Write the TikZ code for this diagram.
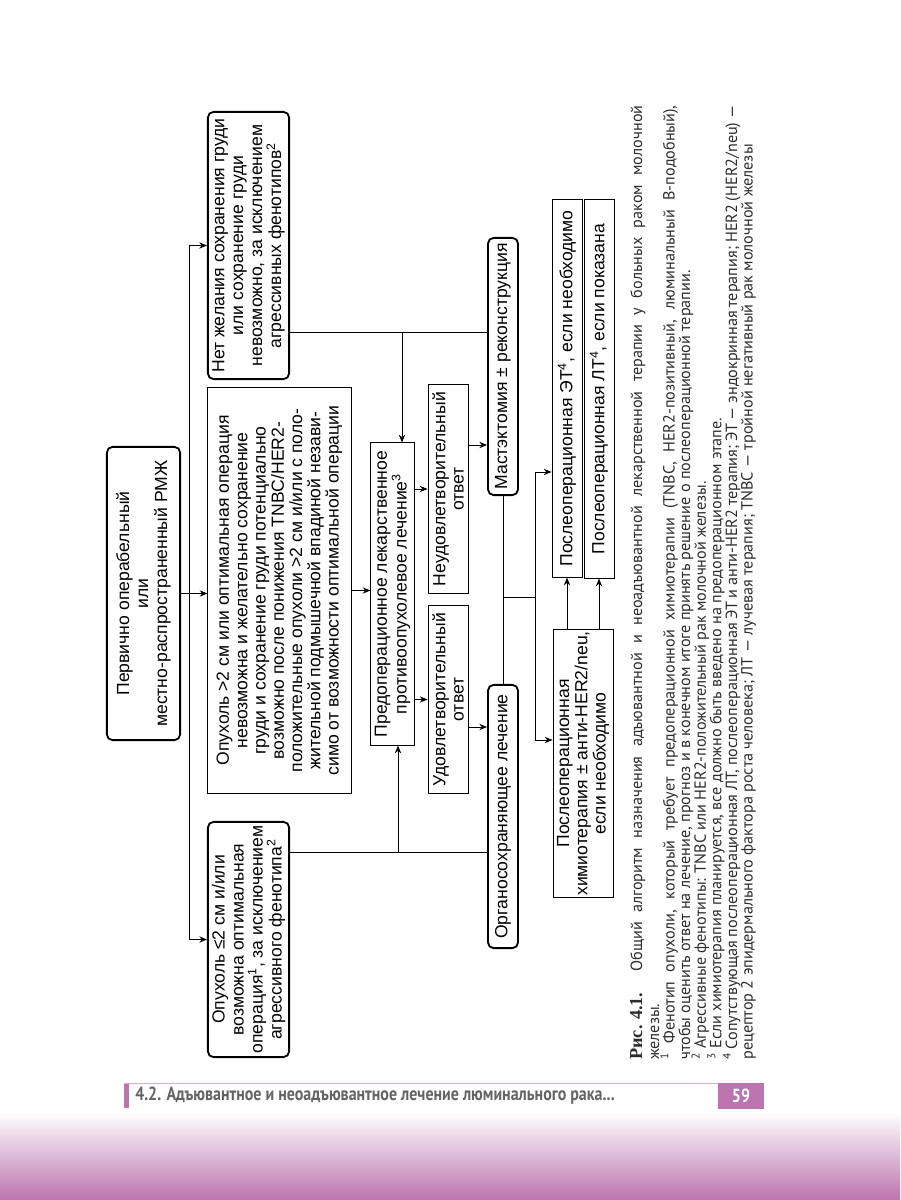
\documentclass[tikz,border=0pt]{standalone}
\usepackage{fontspec}
\setmainfont{Liberation Sans}
\newfontfamily\capfont{PT Sans}
\newfontfamily\hdrfont[FakeStretch=0.84]{PT Sans}
\newfontfamily\figfont{Liberation Serif}
\usetikzlibrary{arrows.meta,calc}
\definecolor{PageLilac}{RGB}{188,116,174}
\definecolor{HeadGray}{RGB}{100,100,100}
\definecolor{CapGray}{RGB}{45,45,45}

\begin{document}
\begin{tikzpicture}[x=0.025cm,y=-0.025cm,
        rbox/.style={rectangle, draw, line width=1.3pt, rounded corners=4pt, fill=white,
                     rotate=90, align=center, inner sep=1pt,
                     font=\fontsize{12.5}{13.5}\selectfont},
        sbox/.style={rectangle, draw, line width=0.7pt, fill=white,
                     rotate=90, align=center, inner sep=1pt,
                     font=\fontsize{12.5}{13}\selectfont},
        arr/.style={-{Stealth[length=5.5pt,width=4.5pt]}, line width=0.7pt},
        link/.style={line width=0.7pt},
        capline/.style={rotate=90, anchor=base west, inner sep=0pt,
                        font=\capfont\fontsize{11.5}{13}\selectfont, text=CapGray}
      ]
        \useasboundingbox (0,0) rectangle (900,1200);
        \fill[white] (0,0) rectangle (900,1200);
        \shade[top color=white, middle color=PageLilac!45, bottom color=PageLilac] (0,1112) rectangle (900,1200);

        \node[rbox, minimum width=7.33cm, minimum height=1.83cm] (prim) at (143.5,593.5)
          {Первично операбельный\\или\\местно-распространенный РМЖ};
        \node[rbox, minimum width=6.68cm, minimum height=2.03cm] (nobcs) at (248.5,245.5)
          {Нет желания сохранения груди\\или сохранение груди\\невозможно, за исключением\\агрессивных фенотипов\textsuperscript{2}};
        \node[sbox, minimum width=10.13cm, minimum height=3.58cm] (large) at (279.5,590.5)
          {Опухоль >2 см или оптимальная операция\\невозможна и желательно сохранение\\груди и сохранение груди потенциально\\возможно после понижения TNBC/HER2-\\положительные опухоли >2 см и/или с поло-\\жительной подмышечной впадиной незави-\\симо от возможности оптимальной операции};
        \node[rbox, minimum width=5.88cm, minimum height=2.03cm] (small) at (248.5,939.5)
          {Опухоль ≤2 см и/или\\возможна оптимальная\\операция\textsuperscript{1}, за исключением\\агрессивного фенотипа\textsuperscript{2}};

        \node[sbox, minimum width=7.55cm, minimum height=1.08cm] (neo) at (392.5,594)
          {Предоперационное лекарственное\\противоопухолевое лечение\textsuperscript{3}};
        \node[sbox, minimum width=4.68cm, minimum height=1.0cm] (resp) at (448,699.5)
          {Удовлетворительный\\ответ};
        \node[sbox, minimum width=5.2cm, minimum height=1.0cm] (noresp) at (448,489)
          {Неудовлетворительный\\ответ};

        \node[rbox, minimum width=6.58cm, minimum height=0.75cm] (bcs) at (503,816.5)
          {Органосохраняющее лечение};
        \node[rbox, minimum width=6.43cm, minimum height=0.75cm] (mast) at (503,366.5)
          {Мастэктомия ± реконструкция};

        \node[sbox, minimum width=6.68cm, minimum height=1.5cm] (chemo) at (583,763.5)
          {Послеоперационная\\химиотерапия ± анти-HER2/neu,\\если необходимо};
        \node[sbox, minimum width=9.43cm, minimum height=0.75cm] (endo) at (567,388.5)
          {Послеоперационная ЭТ\textsuperscript{4}, если необходимо};
        \node[sbox, minimum width=9.45cm, minimum height=0.75cm] (radio) at (599,389)
          {Послеоперационная ЛТ\textsuperscript{4}, если показана};

        \coordinate (bus) at (189,0);
        \coordinate (jn) at (402,332);
        \coordinate (js) at (398,852);
        \coordinate (jq) at (470,445);
        \coordinate (jr) at (470,727);
        \coordinate (jm) at (535,597);
        \coordinate (ja) at (535,472);
        \coordinate (jb) at (535,740);

        \draw[arr] (prim.south) -- (prim.south -| large.north);
        \draw[link] (bus |- nobcs.north) -- (bus |- small.north);
        \draw[arr] (bus |- nobcs.north) -- (nobcs.north);
        \draw[arr] (bus |- small.north) -- (small.north);

        \draw[link] (jn -| nobcs.south) -- (jn -| mast.north);
        \draw[arr] (jn) -- (jn |- neo.east);
        \draw[arr] (large.south) -- (large.south -| neo.north);
        \draw[link] (js -| small.south) -- (js -| bcs.north);
        \draw[arr] (js) -- (js |- neo.west);

        \draw[arr] (noresp.north -| neo.south) -- (noresp.north);
        \draw[arr] (resp.north -| neo.south) -- (resp.north);
        \draw[arr] (jq -| noresp.south) -- (jq -| mast.north);
        \draw[arr] (jr -| resp.south) -- (jr -| bcs.north);

        \draw[link] (mast.west) -- (bcs.east);
        \draw[link] (jm -| mast.west) -- (jm);
        \draw[link] (ja) -- (jb);
        \draw[arr] (ja) -- (ja -| endo.north);
        \draw[arr] (jb) -- (jb -| chemo.north);
        \draw[arr] (endo |- chemo.east) -- (endo.west);
        \draw[arr] (radio |- chemo.east) -- (radio.west);

        \node[capline] (cap1) at (642,1060) {\makebox[23.85cm][s]{{\figfont\bfseries\fontsize{13}{14}\selectfont Рис.\hspace{0.3em}4.1.} Общий алгоритм назначения адъювантной и неоадъювантной лекарственной терапии у больных раком молочной}};
        \node[capline] (cap2) at (659,1060) {железы.};
        \node[capline] (cap3) at (674.6,1060) {\makebox[23.85cm][s]{\textsuperscript{1} Фенотип опухоли, который требует предоперационной химиотерапии (TNBC, HER2-позитивный, люминальный В-подобный),}};
        \node[capline] (cap4) at (690.2,1060) {чтобы оценить ответ на лечение, прогноз и в конечном итоге принять решение о послеоперационной терапии.};
        \node[capline] (cap5) at (705.8,1060) {\textsuperscript{2} Агрессивные фенотипы: TNBC или HER2-положительный рак молочной железы.};
        \node[capline] (cap6) at (721.4,1060) {\textsuperscript{3} Если химиотерапия планируется, все должно быть введено на предоперационном этапе.};
        \node[capline] (cap7) at (737,1060) {\makebox[23.85cm][s]{\textsuperscript{4} Сопутствующая послеоперационная ЛТ, послеоперационная ЭТ и анти-HER2 терапия; ЭТ — эндокринная терапия; HER2 (HER2/neu) —}};
        \node[capline] (cap8) at (752.6,1060) {рецептор 2 эпидермального фактора роста человека; ЛТ — лучевая терапия; TNBC — тройной негативный рак молочной железы};

        \fill[PageLilac] (124,1083) rectangle (129,1108);
        \draw[PageLilac!60, line width=0.8pt] (124,1083.5) -- (718,1083.5);
        \node[anchor=west, inner sep=0pt, text=HeadGray,
              font=\hdrfont\bfseries\fontsize{13.5}{14}\selectfont] (runhead) at (135,1096)
          {4.2. Адъювантное и неоадъювантное лечение люминального рака...};
        \node[fill=PageLilac, text=white, inner sep=0pt, minimum width=1.15cm, minimum height=0.65cm,
              font=\hdrfont\bfseries\fontsize{13.5}{14}\selectfont] (pageno) at (741,1096) {59};
      \end{tikzpicture}
\end{document}
